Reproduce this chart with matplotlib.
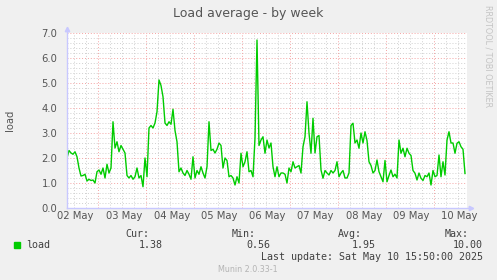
from datetime import datetime, timedelta
import numpy as np
from matplotlib import pyplot as plt

# hourly load average, starting 02 May 08:30
start = datetime(2025, 5, 2, 8, 30)
load = [
    2.0, 2.3, 2.2, 2.15, 2.25, 2.05, 1.6, 1.28, 1.3, 1.35,
    1.08, 1.15, 1.1, 1.12, 1.0, 1.45, 1.52, 1.35, 1.6, 1.2,
    1.75, 1.4, 1.6, 3.45, 2.4, 2.65, 2.25, 2.5, 2.35, 2.2,
    1.3, 1.2, 1.3, 1.15, 1.25, 1.6, 1.2, 1.3, 0.85, 2.0,
    1.25, 3.2, 3.3, 3.2, 3.4, 3.85, 5.12, 4.9, 4.45, 3.4,
    3.3, 3.45, 3.35, 3.95, 3.1, 2.65, 1.45, 1.6, 1.4, 1.3,
    1.5, 1.35, 1.15, 2.05, 1.2, 1.5, 1.35, 1.65, 1.4, 1.2,
    1.65, 3.45, 2.3, 2.35, 2.2, 2.35, 2.6, 2.5, 1.6, 2.0,
    1.9, 1.25, 1.3, 1.2, 0.92, 1.25, 1.0, 2.19, 1.65, 1.85,
    2.25, 1.45, 1.5, 1.25, 2.8, 6.72, 2.5, 2.72, 2.85, 2.19,
    2.72, 2.4, 2.6, 1.65, 1.25, 1.65, 1.25, 1.4, 1.4, 1.35,
    1.0, 1.6, 1.45, 1.85, 1.6, 1.65, 1.7, 1.4, 2.45, 2.85,
    4.25, 3.0, 2.19, 3.59, 2.2, 2.85, 2.9, 1.52, 1.19, 1.5,
    1.4, 1.32, 1.5, 1.4, 1.5, 1.85, 1.25, 1.4, 1.5, 1.2,
    1.2, 1.4, 3.3, 3.39, 2.6, 2.72, 2.39, 3.0, 2.6, 3.05,
    2.7, 1.85, 1.7, 1.4, 1.5, 1.92, 1.45, 1.25, 1.05, 1.9,
    1.05, 1.3, 1.52, 1.25, 1.35, 1.2, 2.72, 2.19, 2.39, 2.05,
    2.39, 2.19, 2.1, 1.5, 1.39, 1.12, 1.4, 1.19, 1.1, 1.3,
    1.25, 1.4, 0.92, 1.5, 1.25, 1.3, 2.12, 1.25, 1.85, 1.32,
    2.72, 3.05, 2.6, 2.6, 2.19, 2.59, 2.65, 2.45, 2.35, 1.38,
]
day_labels = ['02 May', '03 May', '04 May', '05 May', '06 May',
              '07 May', '08 May', '09 May', '10 May']
stat_names = ['Cur:', 'Min:', 'Avg:', 'Max:']
stat_values = ['1.38', '0.56', '1.95', '10.00']
y_ticks = [0, 1, 2, 3, 4, 5, 6, 7]

times = [start + timedelta(hours=k) for k in range(len(load))]
end = start + timedelta(hours=200)

W, H = 497, 280
fig = plt.figure(figsize=(W / 100, H / 100), dpi=100, facecolor='#f0f0f0')
ax = fig.add_axes([67 / W, 72 / H, 400 / W, 175 / H])
ax.set_facecolor('white')
ax.set_xlim(start, end)
ax.set_ylim(0, 7)

# grid
red = '#f4a4a4'
gray = '#d0d0d0'
dot = (0, (1, 2))
for v in np.arange(0.2, 7.01, 0.2):
    if abs(v - round(v)) < 1e-6:
        ax.axhline(v, color=red, lw=0.7, ls=dot, zorder=1)
    else:
        ax.axhline(v, color=gray, lw=0.7, ls=dot, zorder=0.5)
t = datetime(2025, 5, 2, 12)
while t < end:
    c, z = (red, 1) if t.hour == 0 else (gray, 0.5)
    ax.axvline(t, color=c, lw=0.7, ls=dot, zorder=z)
    t += timedelta(hours=6)

ax.plot(times, load, color='#00cc00', lw=1.0, zorder=3)

# axes look like rrdtool
for s in ax.spines.values():
    s.set_visible(False)
axc = '#c8c8ff'
ax.plot([0, 0], [0, 1.02], color=axc, lw=1, transform=ax.transAxes, clip_on=False, zorder=4)
ax.plot([0, 1.01], [0, 0], color=axc, lw=1, transform=ax.transAxes, clip_on=False, zorder=4)
ax.plot([0], [1.022], marker='^', ms=3.2, color=axc, transform=ax.transAxes, clip_on=False)
ax.plot([1.011], [0], marker='>', ms=3.2, color=axc, transform=ax.transAxes, clip_on=False)

noon = [datetime(2025, 5, 2 + i, 12, 50) for i in range(len(day_labels))]
ax.set_xticks(noon)
ax.set_xticklabels(day_labels)
ax.set_yticks(y_ticks)
ax.set_yticklabels(['%.1f' % v for v in y_ticks])
ax.tick_params(axis='both', length=0, labelsize=7.2, labelcolor='#555555')
ax.tick_params(axis='x', pad=2.5)
ax.tick_params(axis='y', pad=7)

fig.text(248 / W, 1 - 13 / H, 'Load average - by week', ha='center', va='center',
         fontsize=9, color='#555555')
fig.text(10 / W, 1 - 120 / H, 'load', rotation=90, ha='center', va='center',
         fontsize=7.2, color='#555555')
fig.text(488 / W, 1 - 5 / H, 'RRDTOOL / TOBI OETIKER', rotation=270, ha='center', va='top',
         fontsize=5.8, color='#c4c4c4')

# legend
mono = dict(family='DejaVu Sans Mono', fontsize=7.2, color='#404040')
fig.patches.append(plt.Rectangle((14 / W, 1 - 248 / H), 6 / W, 6 / H,
                                 transform=fig.transFigure, color='#00cc00', figure=fig))
fig.text(26 / W, 1 - 245 / H, 'load', ha='left', va='center', **mono)
right_edges = [149, 256, 362, 469]
value_edges = [163, 270, 376, 483]
for name, val, rx, vx in zip(stat_names, stat_values, right_edges, value_edges):
    fig.text(rx / W, 1 - 234 / H, name, ha='right', va='center', **mono)
    fig.text(vx / W, 1 - 245 / H, val, ha='right', va='center', **mono)
fig.text(483 / W, 1 - 257.5 / H, 'Last update: Sat May 10 15:50:00 2025', ha='right',
         va='center', **mono)
fig.text(248 / W, 1 - 269.5 / H, 'Munin 2.0.33-1', ha='center', va='center',
         fontsize=5.8, color='#b4b4b4')

fig.savefig('out.png', dpi=100, facecolor=fig.get_facecolor())
